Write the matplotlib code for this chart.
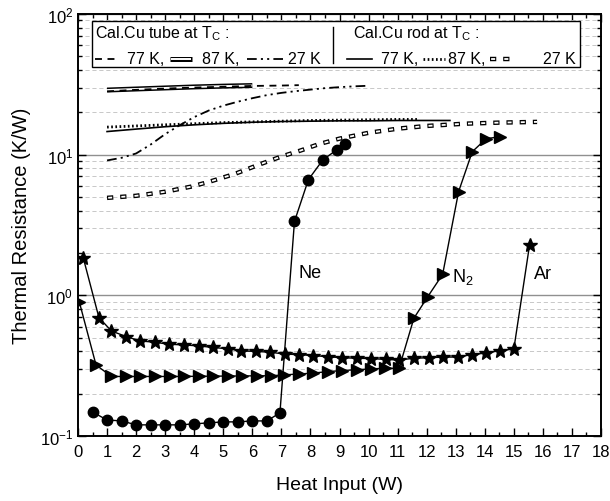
import matplotlib
matplotlib.use("Agg")
import matplotlib.pyplot as plt
from matplotlib.ticker import LogLocator, MultipleLocator, NullFormatter

plt.rcParams['font.family'] = ['Liberation Sans', 'DejaVu Sans']
plt.rcParams['mathtext.fontset'] = 'custom'
plt.rcParams['mathtext.rm'] = 'Liberation Sans'
plt.rcParams['mathtext.it'] = 'Liberation Sans:italic'
plt.rcParams['lines.scale_dashes'] = False
plt.rcParams['axes.unicode_minus'] = False

# ---------------- data ----------------
ne_x = [0.5, 1.0, 1.5, 2.0, 2.5, 3.0, 3.5, 4.0, 4.5, 5.0, 5.5, 6.0, 6.5, 6.95,
        7.45, 7.93, 8.43, 8.9, 9.18]
ne_y = [0.148, 0.130, 0.128, 0.120, 0.120, 0.120, 0.120, 0.122, 0.124, 0.126,
        0.126, 0.128, 0.128, 0.146, 3.35, 6.65, 9.2, 10.8, 12.0]

n2_x = [0.05, 0.62, 1.15, 1.65, 2.15, 2.65, 3.15, 3.65, 4.15, 4.65, 5.15, 5.65,
        6.15, 6.65, 7.1, 7.6, 8.1, 8.6, 9.1, 9.6, 10.1, 10.55, 11.05,
        11.56, 12.04, 12.55, 13.1, 13.57, 14.05, 14.52]
n2_y = [0.89, 0.32, 0.265, 0.265, 0.265, 0.265, 0.265, 0.265, 0.266, 0.266,
        0.267, 0.267, 0.268, 0.268, 0.272, 0.276, 0.280, 0.287, 0.292, 0.296,
        0.300, 0.303, 0.303, 0.687, 0.98, 1.41, 5.47, 10.5, 13.0, 13.4]

ar_x = [0.18, 0.72, 1.15, 1.66, 2.14, 2.64, 3.13, 3.64, 4.15, 4.64, 5.15, 5.62,
        6.13, 6.62, 7.12, 7.6, 8.1, 8.6, 9.1, 9.6, 10.1, 10.6, 11.06, 11.55,
        12.08, 12.57, 13.07, 13.55, 14.05, 14.54, 15.0, 15.54]
ar_y = [1.85, 0.695, 0.558, 0.509, 0.474, 0.464, 0.449, 0.444, 0.437, 0.426,
        0.417, 0.403, 0.399, 0.394, 0.382, 0.379, 0.373, 0.366, 0.360, 0.357,
        0.355, 0.350, 0.347, 0.357, 0.360, 0.364, 0.364, 0.379, 0.389, 0.405,
        0.415, 2.27]

tube77_x = [1, 2, 3, 4, 5, 6, 7, 7.6]
tube77_y = [28.2, 28.9, 29.5, 30.0, 30.4, 30.8, 31.0, 31.2]
tube87_x = [1, 2, 3, 4, 5, 6]
tube87_y = [28.8, 29.3, 29.8, 30.3, 30.7, 31.0]
tube27_x = [1, 1.5, 2, 2.5, 3, 3.5, 4, 4.5, 5, 5.5, 6, 6.5, 7, 7.5, 8, 8.5, 9,
            9.5, 10]
tube27_y = [9.1, 9.5, 10.2, 11.8, 14.0, 16.2, 18.5, 20.6, 22.3, 23.8, 25.2,
            26.5, 27.5, 28.3, 29.0, 29.7, 30.2, 30.6, 30.9]

rod77_x = [1, 2, 3, 4, 5, 6, 7, 8, 9, 10, 11, 12, 12.8]
rod77_y = [14.6, 15.2, 15.8, 16.3, 16.7, 17.0, 17.2, 17.3, 17.4, 17.4, 17.5,
           17.5, 17.5]
rod87_x = [1, 2, 3, 4, 5, 6, 7, 8, 9, 10, 11, 11.7]
rod87_y = [15.7, 16.0, 16.3, 16.6, 16.9, 17.1, 17.3, 17.5, 17.6, 17.7, 17.8,
           17.8]
rod27_x = [1, 2, 3, 3.9, 4.5, 5.4, 6.3, 7, 7.66, 8.3, 9, 10, 11, 12, 13.3,
           14.5, 15.8]
rod27_y = [4.93, 5.1, 5.45, 5.93, 6.4, 7.3, 8.6, 9.7, 10.7, 11.9, 13.0, 14.3,
           15.3, 16.0, 16.6, 16.9, 17.1]

x_ticks = list(range(0, 19))
gas_labels = ["Ne", "N$_2$", "Ar"]
gas_label_pos = [(8.0, 1.45), (13.25, 1.38), (16.0, 1.43)]

# ---------------- styles ----------------
HOLLOW_OUT = dict(color='black', lw=3.2, ls=(0, (4.5, 5)))
HOLLOW_IN = dict(color='white', lw=1.3, ls=(8.7, (2.9, 6.6)))
DASHDOTDOT = (0, (7, 3, 1.5, 3, 1.5, 3))

# ---------------- figure ----------------
fig = plt.figure(figsize=(6.1, 5.02), dpi=100)
L, R, T, B = 78, 601, 15, 437
W, H = 610, 502
ax = fig.add_axes([L / W, 1 - B / H, (R - L) / W, (B - T) / H])
ax.set_yscale('log')
ax.set_xlim(0, (R - L) / 29.4)
ax.set_ylim(0.1, 100)

# grid
ax.yaxis.grid(True, which='major', color='#909090', lw=1.0, ls='-')
ax.yaxis.grid(True, which='minor', color='#c8c8c8', lw=0.7, ls=(0, (3, 2)))
ax.set_axisbelow(True)

# calibration curves
ax.plot(tube87_x, tube87_y, color='black', lw=3.6, solid_capstyle='butt')
ax.plot(tube87_x, tube87_y, color='white', lw=1.4, solid_capstyle='butt')
ax.plot(tube77_x, tube77_y, color='black', lw=1.3, ls=(0, (5, 4)))
ax.plot(tube27_x, tube27_y, color='black', lw=1.3, ls=DASHDOTDOT)
ax.plot(rod77_x, rod77_y, color='black', lw=1.2)
ax.plot(rod87_x, rod87_y, color='black', lw=2.0, ls=(0, (1.2, 1.8)))
ax.plot(rod27_x, rod27_y, **HOLLOW_OUT)
ax.plot(rod27_x, rod27_y, **HOLLOW_IN)

# measured data
ax.plot(ne_x, ne_y, color='black', lw=1.0, marker='o', ms=7.5, mfc='black', mec='black')
ax.plot(n2_x, n2_y, color='black', lw=1.0, marker='>', ms=8.5, mfc='black', mec='black')
ax.plot(ar_x, ar_y, color='black', lw=1.0, marker='*', ms=10, mfc='black', mec='black')

for lab, (lx, ly) in zip(gas_labels, gas_label_pos):
    ax.text(lx, ly, lab, fontsize=13, ha='center', va='center')

# ticks
ax.set_xticks(x_ticks)
ax.xaxis.set_minor_locator(MultipleLocator(0.5))
ax.yaxis.set_major_locator(LogLocator(base=10, numticks=10))
ax.yaxis.set_minor_locator(LogLocator(base=10, subs=range(2, 10), numticks=20))
ax.yaxis.set_minor_formatter(NullFormatter())
ax.tick_params(which='both', direction='in', top=True, right=True, labelsize=12,
               width=1.0, colors='black')
ax.tick_params(which='major', length=6)
ax.tick_params(which='minor', length=3.2)
ax.tick_params(axis='x', pad=6)
for s in ax.spines.values():
    s.set_linewidth(1.4)

# ---------------- helpers for pixel layout ----------------
def fx(px):
    return (px - L) / (R - L)

def fy(py):
    return (B - py) / (B - T)

ax.set_xlabel('Heat Input (W)', fontsize=14)
ax.set_ylabel('Thermal Resistance (K/W)', fontsize=14.5)
ax.xaxis.set_label_coords(0.5, fy(477))
ax.yaxis.set_label_coords(fx(31), 0.5)

# ---------------- custom legend box ----------------
tr = ax.transAxes
box = plt.Rectangle((fx(92), fy(68)), fx(580) - fx(92), fy(22) - fy(68),
                    transform=tr, fill=True, fc='white', ec='black', lw=1.0, zorder=5)
ax.add_patch(box)
ax.plot([fx(333), fx(333)], [fy(28), fy(64)], transform=tr, color='black', lw=1.0, zorder=6)

fs = 11.5
ax.text(fx(95), fy(34), 'Cal.Cu tube at T$_\\mathrm{C}$ :', transform=tr, fontsize=fs,
        ha='left', va='center', zorder=6)
ax.text(fx(353), fy(34), 'Cal.Cu rod at T$_\\mathrm{C}$ :', transform=tr, fontsize=fs,
        ha='left', va='center', zorder=6)

yl = fy(60)
# tube samples
ax.plot([fx(95), fx(119)], [yl, yl], transform=tr, color='black', lw=1.3, ls=(0, (5, 4)), zorder=6)
ax.text(fx(127), yl, '77 K,', transform=tr, fontsize=fs, ha='left', va='center', zorder=6)
ax.plot([fx(170), fx(192)], [yl, yl], transform=tr, color='black', lw=3.6,
        solid_capstyle='butt', zorder=6)
ax.plot([fx(170.8), fx(191.2)], [yl, yl], transform=tr, color='white', lw=1.4,
        solid_capstyle='butt', zorder=6)
ax.text(fx(202), yl, '87 K,', transform=tr, fontsize=fs, ha='left', va='center', zorder=6)
ax.plot([fx(247), fx(283)], [yl, yl], transform=tr, color='black', lw=1.3,
        ls=DASHDOTDOT, zorder=6)
ax.text(fx(288), yl, '27 K', transform=tr, fontsize=fs, ha='left', va='center', zorder=6)
# rod samples
ax.plot([fx(347), fx(372)], [yl, yl], transform=tr, color='black', lw=1.2, zorder=6)
ax.text(fx(381), yl, '77 K,', transform=tr, fontsize=fs, ha='left', va='center', zorder=6)
ax.plot([fx(423), fx(445)], [yl, yl], transform=tr, color='black', lw=2.0,
        ls=(0, (1.2, 1.8)), zorder=6)
ax.text(fx(448), yl, '87 K,', transform=tr, fontsize=fs, ha='left', va='center', zorder=6)
ax.plot([fx(490), fx(515)], [yl, yl], transform=tr, zorder=6, **HOLLOW_OUT)
ax.plot([fx(490), fx(515)], [yl, yl], transform=tr, zorder=6, **HOLLOW_IN)
ax.text(fx(543), yl, '27 K', transform=tr, fontsize=fs, ha='left', va='center', zorder=6)

fig.savefig('out.png', dpi=100)
